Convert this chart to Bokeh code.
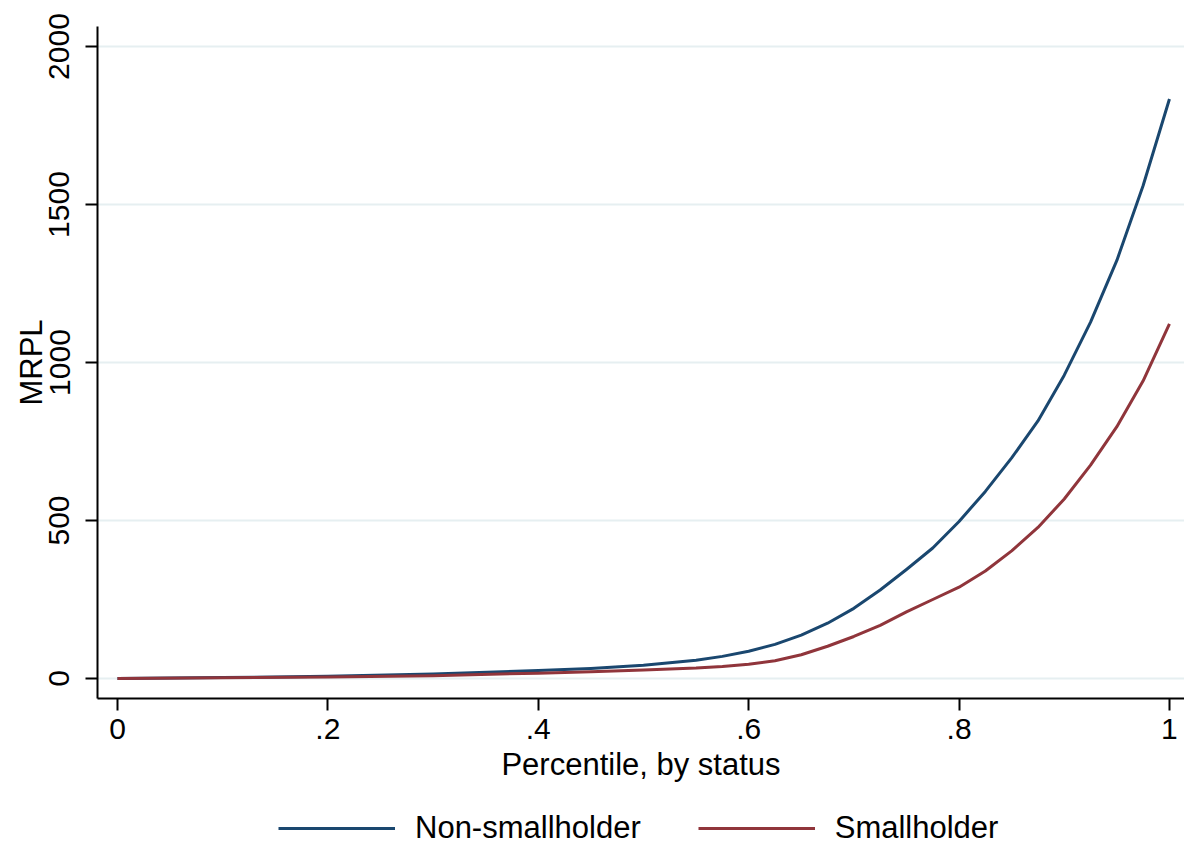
from bokeh.plotting import figure
from bokeh.layouts import column
from bokeh.models import Range1d, FixedTicker, Legend, LegendItem
from bokeh.embed import file_html
from bokeh.resources import INLINE

# ---- data ----
percentile = [0, 0.1, 0.2, 0.3, 0.4, 0.45, 0.5, 0.525, 0.55, 0.575, 0.6, 0.625,
              0.65, 0.675, 0.7, 0.725, 0.75, 0.775, 0.8, 0.825, 0.85, 0.875,
              0.9, 0.925, 0.95, 0.975, 1.0]
non_smallholder = [0, 3, 7, 14, 25, 32, 42, 50, 58, 70, 86, 108,
                   137, 175, 222, 280, 345, 413, 497, 592, 698, 815,
                   960, 1128, 1323, 1560, 1834]
smallholder = [0, 2, 5, 9, 17, 21, 27, 30, 33, 38, 45, 56,
               75, 102, 133, 168, 211, 250, 289, 340, 404, 478,
               568, 675, 797, 942, 1122]

x_ticks = [0, 0.2, 0.4, 0.6, 0.8, 1.0]
x_tick_labels = ["0", ".2", ".4", ".6", ".8", "1"]
y_ticks = [0, 500, 1000, 1500, 2000]
series_names = ["Non-smallholder", "Smallholder"]
series_colors = ["#1a476f", "#90353b"]

FONT = "Liberation Sans"

p = figure(width=1184, height=800, output_backend="svg", toolbar_location=None,
           x_range=Range1d(-0.019, 1.0143), y_range=Range1d(-63.3, 2063.3),
           min_border_left=97, min_border_top=26, min_border_right=0,
           min_border_bottom=102)

p.outline_line_color = None
p.background_fill_color = "white"
p.border_fill_color = "white"

p.xgrid.grid_line_color = None
p.ygrid.grid_line_color = "#e6eff1"
p.ygrid.grid_line_width = 2
p.ygrid.ticker = FixedTicker(ticks=y_ticks)

# axes
p.xaxis.ticker = FixedTicker(ticks=x_ticks)
p.xaxis.major_label_overrides = {t: l for t, l in zip(x_ticks, x_tick_labels)}
p.yaxis.ticker = FixedTicker(ticks=y_ticks)
p.yaxis.major_label_orientation = "vertical"

for ax in (p.xaxis[0], p.yaxis[0]):
    ax.axis_line_color = "black"
    ax.axis_line_width = 2
    ax.major_tick_line_color = "black"
    ax.major_tick_line_width = 2
    ax.major_tick_out = 12
    ax.major_tick_in = 0
    ax.minor_tick_line_color = None
    ax.major_label_text_font = FONT
    ax.major_label_text_font_size = "30px"
    ax.major_label_text_color = "black"
    ax.axis_label_text_font = FONT
    ax.axis_label_text_font_size = "31px"
    ax.axis_label_text_font_style = "normal"
    ax.axis_label_text_color = "black"

p.xaxis.axis_label = "Percentile, by status"
p.yaxis.axis_label = "MRPL"
p.xaxis.major_label_standoff = 8
p.xaxis.axis_label_standoff = 5
p.yaxis.major_label_standoff = 16
p.yaxis.axis_label_standoff = -2

p.line(percentile, non_smallholder, line_color=series_colors[0], line_width=3,
       line_join="round")
p.line(percentile, smallholder, line_color=series_colors[1], line_width=3,
       line_join="round")

# legend strip below the plot (swatch renderers lie outside its visible range)
lg = figure(width=1184, height=46, output_backend="svg", toolbar_location=None,
            x_range=Range1d(0, 1), y_range=Range1d(0, 1),
            x_axis_location=None, y_axis_location=None,
            min_border_left=0, min_border_right=0, min_border_top=0,
            min_border_bottom=0)
lg.outline_line_color = None
lg.grid.visible = False
lg.background_fill_color = "white"
lg.border_fill_color = "white"
k1 = lg.line([-2, -1], [-2, -2], line_color=series_colors[0], line_width=3)
k2 = lg.line([-2, -1], [-2, -2], line_color=series_colors[1], line_width=3)
legend = Legend(items=[LegendItem(label=series_names[0], renderers=[k1]),
                       LegendItem(label=series_names[1], renderers=[k2])],
                orientation="horizontal", location=(181, 0),
                glyph_width=117, glyph_height=20, label_standoff=20, spacing=57,
                padding=0, margin=0, border_line_alpha=0, background_fill_alpha=0,
                label_text_font=FONT, label_text_font_size="31px",
                label_text_color="black")
lg.add_layout(legend, "center")

layout = column(p, lg, spacing=0)
open("out.html", "w").write(file_html(layout, INLINE))
